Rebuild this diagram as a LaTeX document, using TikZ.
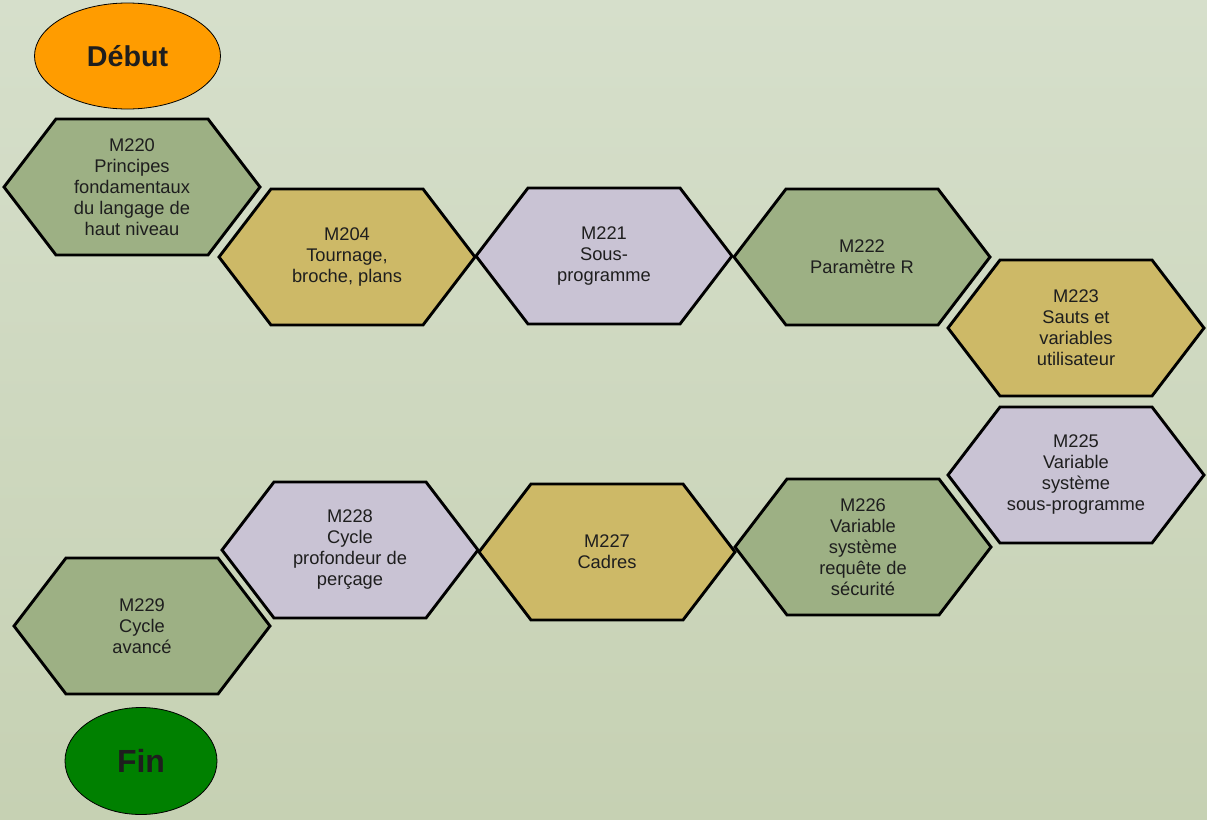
\documentclass[tikz,border=0pt]{standalone}
\usepackage{fontspec}
\setmainfont{Liberation Sans}
\usepackage{tikz}
\usetikzlibrary{shapes.geometric,calc}

\definecolor{bgtop}{HTML}{D6DFCB}
\definecolor{bgbot}{HTML}{C6D1B3}
\definecolor{hexgreen}{HTML}{9DB084}
\definecolor{hexgold}{HTML}{CDB967}
\definecolor{hexlilac}{HTML}{C9C3D4}
\definecolor{startorange}{HTML}{FF9C00}
\definecolor{endgreen}{HTML}{008000}
\definecolor{txt}{HTML}{1E1E1E}

% hexagon cell: name, centre, fill, text
\newcommand{\hexcell}[4]{%
  \filldraw[hex, fill=#3] (#2) ++(-128,0) -- ++(52,-68) -- ++(152,0)
    -- ++(52,68) -- ++(-52,68) -- ++(-152,0) -- cycle;
  \node[hextext] (#1) at (#2) {#4};
}

\begin{document}
\begin{tikzpicture}[x=1pt, y=-1pt,
    hex/.style={draw=black, line width=2.9pt, line join=miter},
    hextext/.style={align=center, text=txt, font=\fontsize{18.3}{21}\selectfont},
    terminal/.style={ellipse, draw=black, line width=0.8pt, text=txt}]

  % background
  \shade[top color=bgtop, bottom color=bgbot] (0,0) rectangle (1207,819);
  \useasboundingbox (0,0) rectangle (1207,819);

  % start
  \node[terminal, fill=startorange, minimum width=186pt, minimum height=106pt,
        font=\fontsize{28.7}{30}\selectfont\bfseries] (debut) at (127.5,56) {Début};

  % first row
  \hexcell{m220}{132,187}{hexgreen}{M220\\Principes\\fondamentaux\\du langage de\\haut niveau}
  \hexcell{m204}{347,257}{hexgold}{M204\\Tournage,\\broche, plans}
  \hexcell{m221}{604,256}{hexlilac}{M221\\Sous-\\programme}
  \hexcell{m222}{862,257}{hexgreen}{M222\\Paramètre R}
  \hexcell{m223}{1076,328}{hexgold}{M223\\Sauts et\\variables\\utilisateur}

  % second row
  \hexcell{m225}{1076,475}{hexlilac}{M225\\Variable\\système\\sous-programme}
  \hexcell{m226}{863,547}{hexgreen}{M226\\Variable\\système\\requête de\\sécurité}
  \hexcell{m227}{607,552}{hexgold}{M227\\Cadres}
  \hexcell{m228}{350,550}{hexlilac}{M228\\Cycle\\profondeur de\\perçage}
  \hexcell{m229}{142,626}{hexgreen}{M229\\Cycle\\avancé}

  % end
  \node[terminal, fill=endgreen, minimum width=152pt, minimum height=107pt,
        font=\fontsize{32}{34}\selectfont\bfseries] (fin) at (141,761) {Fin};

\end{tikzpicture}
\end{document}
